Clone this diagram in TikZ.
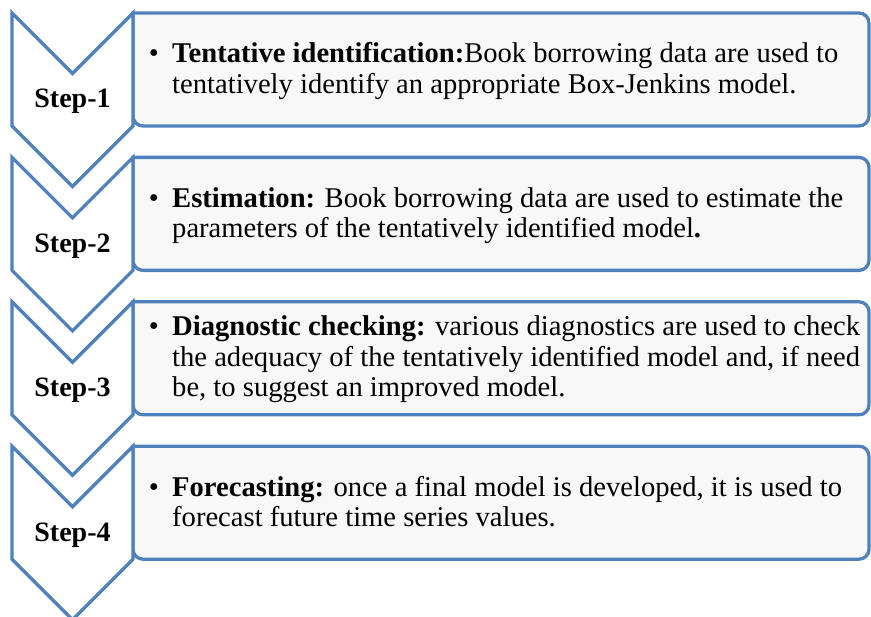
\documentclass[tikz,border=0pt]{standalone}
\usepackage{fontspec}
\setmainfont{Liberation Serif}
\definecolor{stepblue}{HTML}{4F81BD}
\definecolor{panelfill}{HTML}{F8F8F8}
\tikzset{
  chevron/.style={draw=stepblue, line width=3.3pt, line join=miter, fill=white},
  panelbox/.style={draw=stepblue, line width=3.3pt, fill=panelfill},
  steplabel/.style={font=\fontsize{28}{30}\selectfont\bfseries, inner sep=0pt, anchor=base},
  bullettext/.style={font=\fontsize{28.6}{30.5}\selectfont, inner sep=0pt, anchor=base},
  bodytext/.style={font=\fontsize{28.6}{30.5}\selectfont, inner sep=0pt, anchor=base west},
}
% one stage: a rounded panel on the right and a downward chevron on the left
\newcommand\drawstage[1]{%
  \draw[panelbox] (133,#1) [rounded corners=10pt] -- (869,#1) -- (869,#1+113)
    -- (133,#1+113) [sharp corners] -- cycle;
  \draw[chevron] (12,#1) -- (72.5,#1+60.5) -- (133,#1) -- (133,#1+113)
    -- (72.5,#1+173.5) -- (12,#1+113) -- cycle;
}
\newcommand\lines[1]{\begin{tabular}[t]{@{}l@{}}#1\end{tabular}}
\begin{document}
\begin{tikzpicture}[x=1pt,y=-1pt]
\useasboundingbox (0,0) rectangle (871,617);

\drawstage{13}
\drawstage{157.4}
\drawstage{301.8}
\drawstage{446.2}

% step labels
\node[steplabel] (step1) at (72.5,108) {Step-1};
\node[steplabel] (step2) at (72.5,252.4) {Step-2};
\node[steplabel] (step3) at (72.5,396.8) {Step-3};
\node[steplabel] (step4) at (72.5,541.2) {Step-4};

% bullets
\node[bullettext] (b1) at (154,63) {\textbullet};
\node[bullettext] (b2) at (154,207.4) {\textbullet};
\node[bullettext] (b3) at (154,335.8) {\textbullet};
\node[bullettext] (b4) at (154,496.2) {\textbullet};

% descriptions
\node[bodytext] (t1) at (172,63) {\lines{%
  \textbf{Tentative identification:}Book borrowing data are used to\\
  tentatively identify an appropriate Box-Jenkins model.}};
\node[bodytext] (t2) at (172,207.4) {\lines{%
  \textbf{Estimation:} Book borrowing data are used to estimate the\\
  parameters of the tentatively identified model\textbf{.}}};
\node[bodytext] (t3) at (172,335.8) {\lines{%
  \textbf{Diagnostic checking:} various diagnostics are used to check\\
  the adequacy of the tentatively identified model and, if need\\
  be, to suggest an improved model.}};
\node[bodytext] (t4) at (172,496.2) {\lines{%
  \textbf{Forecasting:} once a final model is developed, it is used to\\
  forecast future time series values.}};
\end{tikzpicture}
\end{document}
